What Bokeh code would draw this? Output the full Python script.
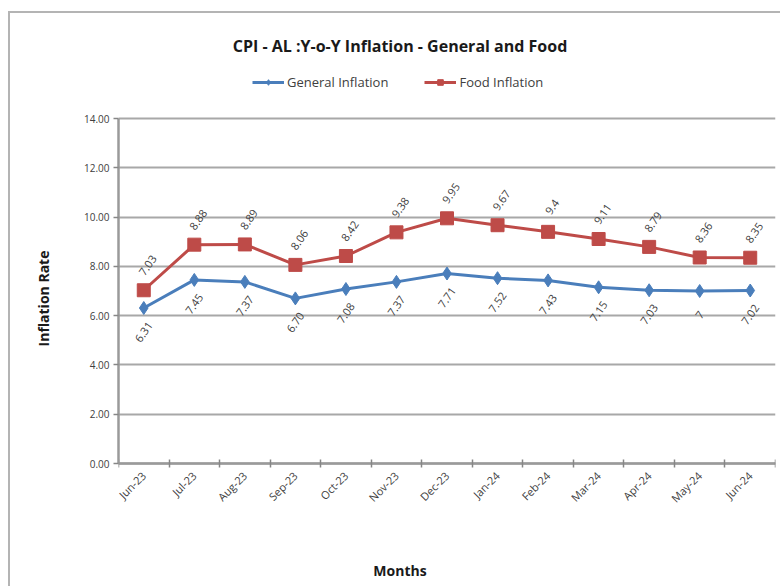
import math
from bokeh.plotting import figure
from bokeh.models import (ColumnDataSource, FixedTicker, PrintfTickFormatter, Range1d,
                          Legend, LegendItem, Label)
from bokeh.core.properties import value
from bokeh.embed import file_html
from bokeh.resources import INLINE

months = ["Jun-23", "Jul-23", "Aug-23", "Sep-23", "Oct-23", "Nov-23", "Dec-23",
          "Jan-24", "Feb-24", "Mar-24", "Apr-24", "May-24", "Jun-24"]
general = [6.31, 7.45, 7.37, 6.70, 7.08, 7.37, 7.71, 7.52, 7.43, 7.15, 7.03, 7.00, 7.02]
food = [7.03, 8.88, 8.89, 8.06, 8.42, 9.38, 9.95, 9.67, 9.40, 9.11, 8.79, 8.36, 8.35]
general_labels = ["6.31", "7.45", "7.37", "6.70", "7.08", "7.37", "7.71", "7.52", "7.43", "7.15", "7.03", "7", "7.02"]
food_labels = ["7.03", "8.88", "8.89", "8.06", "8.42", "9.38", "9.95", "9.67", "9.4", "9.11", "8.79", "8.36", "8.35"]
y_ticks = [0, 2, 4, 6, 8, 10, 12, 14]
y_max = 14

FONT = "Open Sans"
BLUE = "#4A7EBB"
RED = "#BE4B48"
TXT = "#404040"

# layout (pixels)
PX_PER_UNIT = 345 / y_max          # axis 0..14 spans 345 px
EXTRA_TOP_PX = 104                 # space above 14.00 for title and legend (inside frame)
EXTRA_BOTTOM_PX = 119              # space below 0.00 for month labels and axis title
CENTER_SHIFT = -47                 # chart title / axis title centre left of the frame centre

n = len(months)
xpos = [i + 0.5 for i in range(n)]

src = ColumnDataSource(dict(x=xpos, month=months, general=general, food=food,
                            gl=general_labels, fl=food_labels))

p = figure(width=772, height=575, output_backend="svg", toolbar_location=None,
           x_range=Range1d(0, n),
           y_range=Range1d(-EXTRA_BOTTOM_PX / PX_PER_UNIT, y_max + EXTRA_TOP_PX / PX_PER_UNIT),
           min_border_left=108, min_border_right=7, min_border_top=1, min_border_bottom=6,
           outline_line_color=None)
p.styles = {"border-left": "2px solid #b4b4b4", "border-top": "2px solid #b4b4b4",
            "margin-top": "11px", "margin-left": "8px"}

# x axis sits at y = 0 inside the frame
p.xaxis.fixed_location = 0
p.xaxis.ticker = FixedTicker(ticks=xpos, minor_ticks=list(range(n + 1)))
p.xaxis.major_label_overrides = {x: m for x, m in zip(xpos, months)}
p.xaxis.major_label_orientation = math.pi / 4
p.xaxis.major_tick_in = 0
p.xaxis.major_tick_out = 0
p.xaxis.minor_tick_in = 4
p.xaxis.minor_tick_out = 4
p.xaxis.minor_tick_line_color = "#868686"
p.xaxis.minor_tick_line_width = 1.5

p.yaxis.ticker = FixedTicker(ticks=y_ticks)
p.yaxis.bounds = (0, y_max)
p.yaxis.formatter = PrintfTickFormatter(format="%.2f")
p.yaxis.major_tick_in = 0
p.yaxis.major_tick_out = 5
p.yaxis.minor_tick_line_color = None
p.yaxis.axis_label = "Inflation Rate"
p.yaxis.axis_label_standoff = 28
p.yaxis.major_tick_line_color = "#868686"
p.yaxis.major_tick_line_width = 1.5

for ax in (p.xaxis, p.yaxis):
    ax.axis_line_color = "#9a9a9a"
    ax.axis_line_width = 2.5
    ax.major_label_text_font = FONT
    ax.major_label_text_font_size = "10px"
    ax.major_label_text_color = TXT
    ax.axis_label_text_font = FONT
    ax.axis_label_text_font_size = "14px"
    ax.axis_label_text_font_style = "bold"
    ax.axis_label_text_color = "#1a1a1a"
p.xaxis.major_label_text_font_size = "11px"
p.yaxis.major_label_standoff = 4
p.xaxis.major_label_standoff = 6

p.xgrid.grid_line_color = None
p.ygrid.ticker = FixedTicker(ticks=y_ticks)
p.ygrid.grid_line_color = "#a8a8a8"
p.ygrid.grid_line_width = 2

# series
gl = p.line("x", "general", source=src, line_color=BLUE, line_width=3)
gm = p.scatter("x", "general", source=src, marker="diamond", size=13,
               fill_color=BLUE, line_color=BLUE)
fl = p.line("x", "food", source=src, line_color=RED, line_width=3)
fm = p.scatter("x", "food", source=src, marker="square", size=13,
               fill_color=RED, line_color=RED)

ang = 0.96
p.text("x", "general", text="gl", source=src, angle=ang, text_align="center",
       text_baseline="middle", y_offset=24, x_offset=0,
       text_font=value(FONT), text_font_size="11px", text_color=TXT)
p.text("x", "food", text="fl", source=src, angle=ang, text_align="center",
       text_baseline="middle", y_offset=-25, x_offset=4,
       text_font=value(FONT), text_font_size="11px", text_color=TXT)

# chart title (inside the frame, above the 14.00 line)
title = Label(x=n / 2, y=y_max + 73 / PX_PER_UNIT, x_offset=CENTER_SHIFT,
              text="CPI - AL :Y-o-Y Inflation - General and Food",
              text_align="center", text_baseline="middle", text_font=FONT,
              text_font_size="16px", text_font_style="bold", text_color="#1a1a1a")
p.add_layout(title)

# x axis title
xtitle = Label(x=n / 2, y=-107 / PX_PER_UNIT, x_offset=CENTER_SHIFT, text="Months",
               text_align="center", text_baseline="middle", text_font=FONT,
               text_font_size="14px", text_font_style="bold", text_color="#1a1a1a")
p.add_layout(xtitle)

legend = Legend(items=[LegendItem(label="General Inflation", renderers=[gl, gm]),
                       LegendItem(label="Food Inflation", renderers=[fl, fm])],
                orientation="horizontal", location=(134, 491),
                glyph_width=32, glyph_height=14, label_standoff=3, spacing=36,
                padding=0, margin=0, border_line_color=None, background_fill_alpha=0,
                label_text_font=FONT, label_text_font_size="13px", label_text_color=TXT)
p.add_layout(legend)

open("out.html", "w").write(file_html(p, INLINE))
